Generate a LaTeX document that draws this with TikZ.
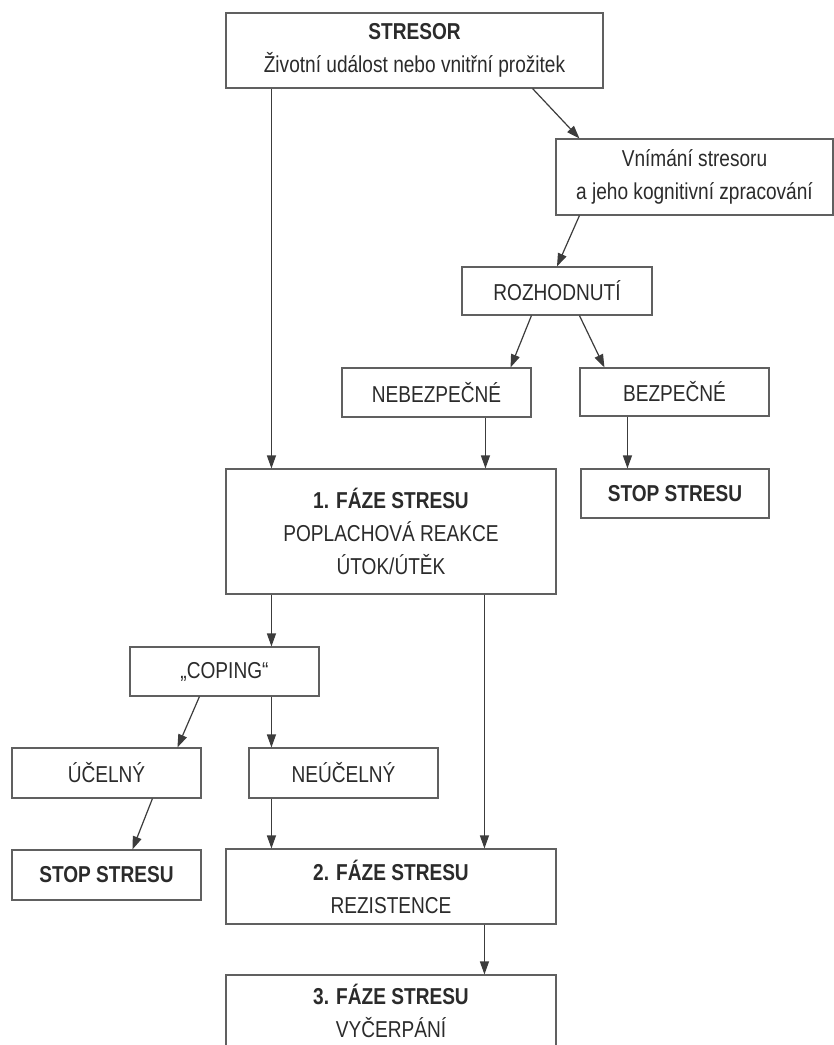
\documentclass[tikz,border=0pt]{standalone}
\usepackage{fontspec}
\setmainfont[FakeStretch=0.83]{Liberation Sans}
\usetikzlibrary{arrows.meta}
\definecolor{txt}{HTML}{2B2B2B}
\definecolor{ln}{HTML}{3C3C3C}
\definecolor{bd}{HTML}{606060}
\begin{document}
\begin{tikzpicture}[x=1pt,y=-1pt,
  box/.style={draw=bd,line width=1.1pt,rectangle,inner sep=0pt,align=center,
    text=txt,font=\fontsize{23}{33}\selectfont},
  arr/.style={draw=ln,line width=1.2pt,-{Triangle[length=13pt,width=9pt]}}]
\clip (0,0) rectangle (834,1045);
\fill[white] (0,0) rectangle (834,1045);
% nodes
\node[box,minimum width=377pt,minimum height=75pt] (stresor) at (414.5,50.5)
  {\textbf{STRESOR}\\Životní událost nebo vnitřní prožitek};
\node[box,minimum width=277pt,minimum height=76pt] (vnim) at (694.5,177)
  {Vnímání stresoru\\a jeho kognitivní zpracování};
\node[box,minimum width=190pt,minimum height=48pt] (roz) at (557,291) {ROZHODNUTÍ};
\node[box,minimum width=189pt,minimum height=49pt] (neb) at (436.5,392.5) {NEBEZPEČNÉ};
\node[box,minimum width=189pt,minimum height=48pt] (bez) at (674.5,392) {BEZPEČNÉ};
\node[box,minimum width=188pt,minimum height=49pt] (stopR) at (675,493.5) {\textbf{STOP STRESU}};
\node[box,minimum width=330pt,minimum height=125pt] (f1) at (391,531.5)
  {\textbf{1. FÁZE STRESU}\\POPLACHOVÁ REAKCE\\ÚTOK/ÚTĚK};
\node[box,minimum width=189pt,minimum height=49pt] (coping) at (224.5,671.5) {„COPING“};
\node[box,minimum width=189pt,minimum height=50pt] (ucel) at (106.5,773) {ÚČELNÝ};
\node[box,minimum width=189pt,minimum height=50pt] (neucel) at (343.5,773) {NEÚČELNÝ};
\node[box,minimum width=189pt,minimum height=50pt] (stopL) at (106.5,875) {\textbf{STOP STRESU}};
\node[box,minimum width=330pt,minimum height=75pt] (f2) at (391,886.5)
  {\textbf{2. FÁZE STRESU}\\REZISTENCE};
\node[box,minimum width=330pt,minimum height=72pt] (f3) at (391,1011)
  {\textbf{3. FÁZE STRESU}\\VYČERPÁNÍ};
% connectors
\draw[arr] ([xshift=46pt]stresor.south west) -- ([xshift=46pt]stresor.south west |- f1.north);
\draw[arr] ([xshift=-71pt]stresor.south east) -- ([xshift=24pt]vnim.north west);
\draw[arr] ([xshift=24pt]vnim.south west) -- (roz.north);
\draw[arr] ([xshift=70pt]roz.south west) -- ([xshift=-21pt]neb.north east);
\draw[arr] ([xshift=118pt]roz.south west) -- ([xshift=25pt]bez.north west);
\draw[arr] ([xshift=48pt]bez.south west) -- ([xshift=48pt]bez.south west |- stopR.north);
\draw[arr] ([xshift=144pt]neb.south west) -- ([xshift=144pt]neb.south west |- f1.north);
\draw[arr] ([xshift=46pt]f1.south west) -- ([xshift=46pt]f1.south west |- coping.north);
\draw[arr] ([xshift=259pt]f1.south west) -- ([xshift=259pt]f1.south west |- f2.north);
\draw[arr] ([xshift=70pt]coping.south west) -- ([xshift=166pt]ucel.north west);
\draw[arr] ([xshift=142pt]coping.south west) -- ([xshift=142pt]coping.south west |- neucel.north);
\draw[arr] ([xshift=141pt]ucel.south west) -- ([xshift=121pt]stopL.north west);
\draw[arr] ([xshift=23pt]neucel.south west) -- ([xshift=23pt]neucel.south west |- f2.north);
\draw[arr] ([xshift=259pt]f2.south west) -- ([xshift=259pt]f2.south west |- f3.north);
\end{tikzpicture}
\end{document}
